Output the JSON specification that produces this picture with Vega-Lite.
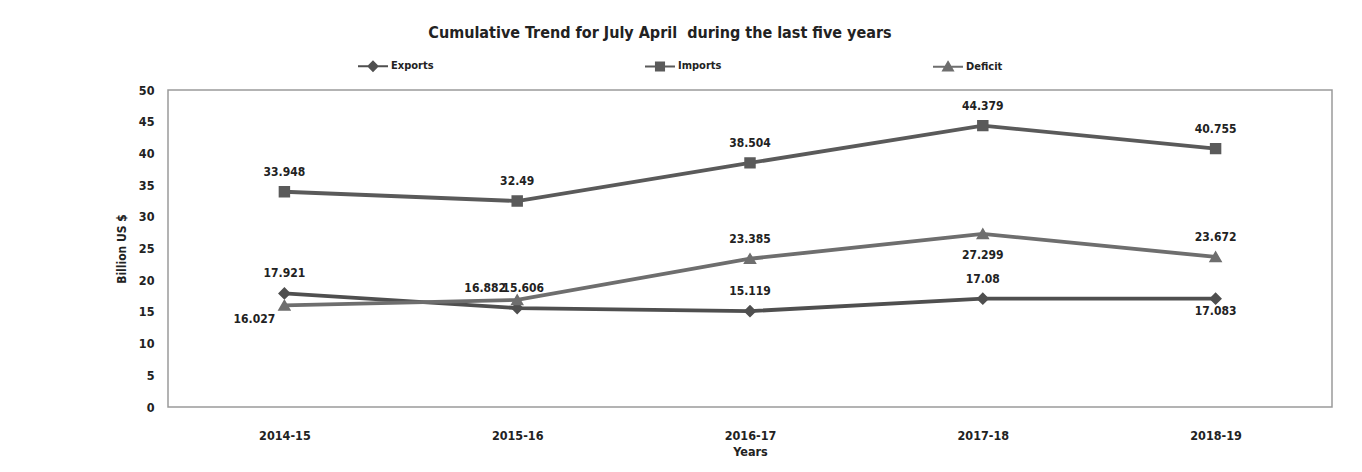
{
  "$schema": "https://vega.github.io/schema/vega-lite/v6.json",
  "width": 1164,
  "height": 317,
  "autosize": {"type": "none"},
  "padding": {"left": 168, "top": 90, "right": 30, "bottom": 65},
  "background": "white",
  "config": {
    "font": "DejaVu Sans Condensed",
    "view": {"stroke": "#9a9a9a", "strokeWidth": 1.5}
  },
  "title": {
    "text": "Cumulative Trend for July April\u00a0 during the last five years",
    "fontSize": 16,
    "fontWeight": "bold",
    "color": "#222",
    "anchor": "middle",
    "dx": -90,
    "offset": 9
  },
  "data": {
    "values": [
      {"year": "2014-15", "series": "Exports", "value": 17.921},
      {"year": "2015-16", "series": "Exports", "value": 15.606},
      {"year": "2016-17", "series": "Exports", "value": 15.119},
      {"year": "2017-18", "series": "Exports", "value": 17.08},
      {"year": "2018-19", "series": "Exports", "value": 17.083},
      {"year": "2014-15", "series": "Imports", "value": 33.948},
      {"year": "2015-16", "series": "Imports", "value": 32.49},
      {"year": "2016-17", "series": "Imports", "value": 38.504},
      {"year": "2017-18", "series": "Imports", "value": 44.379},
      {"year": "2018-19", "series": "Imports", "value": 40.755},
      {"year": "2014-15", "series": "Deficit", "value": 16.027},
      {"year": "2015-16", "series": "Deficit", "value": 16.882},
      {"year": "2016-17", "series": "Deficit", "value": 23.385},
      {"year": "2017-18", "series": "Deficit", "value": 27.299},
      {"year": "2018-19", "series": "Deficit", "value": 23.672}
    ]
  },
  "encoding": {
    "x": {
      "field": "year",
      "type": "ordinal",
      "scale": {"type": "point", "padding": 0.5},
      "axis": {
        "title": "Years",
        "labelAngle": 0,
        "domain": false,
        "ticks": false,
        "labelPadding": 22,
        "labelFontSize": 12.5,
        "labelFontWeight": "bold",
        "labelColor": "#222",
        "titleFontSize": 12.5,
        "titleFontWeight": "bold",
        "titleColor": "#222",
        "titlePadding": 4
      }
    },
    "y": {
      "field": "value",
      "type": "quantitative",
      "scale": {"domain": [0, 50]},
      "axis": {
        "title": "Billion US $",
        "values": [0, 5, 10, 15, 20, 25, 30, 35, 40, 45, 50],
        "grid": false,
        "domain": false,
        "ticks": false,
        "labelPadding": 14,
        "labelFontSize": 12.5,
        "labelFontWeight": "bold",
        "labelColor": "#222",
        "titleFontSize": 12,
        "titleFontWeight": "bold",
        "titleColor": "#222",
        "titlePadding": 10
      }
    }
  },
  "layer": [
    {
      "mark": {"type": "line", "strokeWidth": 3.8},
      "encoding": {
        "color": {
          "field": "series",
          "type": "nominal",
          "scale": {"domain": ["Exports", "Imports", "Deficit"], "range": ["#4f4f4f", "#5a5a5a", "#6e6e6e"]},
          "legend": {
            "title": null,
            "orient": "none",
            "legendX": 189,
            "legendY": -40,
            "direction": "horizontal",
            "columns": 3,
            "columnPadding": 207,
            "symbolSize": 900,
            "symbolStrokeWidth": 2,
            "symbolStrokeColor": "#4f4f4f",
            "labelFontSize": 11,
            "labelFontWeight": "bold",
            "labelColor": "#222",
            "labelOffset": 2
          }
        }
      }
    },
    {
      "mark": {"type": "point", "filled": true, "opacity": 1, "size": 1800, "strokeWidth": 0},
      "encoding": {
        "color": {"field": "series", "type": "nominal", "legend": null},
        "shape": {
          "field": "series",
          "type": "nominal",
          "scale": {"domain": ["Exports", "Imports", "Deficit"], "range": ["M-1,0H1M0,-0.3L0.3,0L0,0.3L-0.3,0Z", "M-1,0H1M-0.27,-0.27H0.27V0.27H-0.27Z", "M-1,0H1M0,-0.3L0.32,0.25H-0.32Z"]},
          "legend": null
        }
      }
    },
    {
      "transform": [{"filter": "datum.series == 'Imports' || (datum.series == 'Exports' && datum.year != '2018-19' && datum.year != '2015-16') || (datum.series == 'Deficit' && (datum.year == '2016-17' || datum.year == '2018-19'))"}],
      "mark": {"type": "text", "dy": -20, "fontSize": 12, "fontWeight": "bold", "color": "#222"},
      "encoding": {"text": {"field": "value", "type": "quantitative", "format": ".5~r"}}
    },
    {
      "transform": [{"filter": "datum.series == 'Exports' && datum.year == '2015-16'"}],
      "mark": {"type": "text", "dy": -20, "dx": 6, "fontSize": 12, "fontWeight": "bold", "color": "#222"},
      "encoding": {"text": {"field": "value", "type": "quantitative", "format": ".5~r"}}
    },
    {
      "transform": [{"filter": "datum.series == 'Deficit' && datum.year == '2015-16'"}],
      "mark": {"type": "text", "dy": -12, "dx": -32, "fontSize": 12, "fontWeight": "bold", "color": "#222"},
      "encoding": {"text": {"field": "value", "type": "quantitative", "format": ".5~r"}}
    },
    {
      "transform": [{"filter": "datum.series == 'Deficit' && datum.year == '2014-15'"}],
      "mark": {"type": "text", "dy": 14, "dx": -30, "fontSize": 12, "fontWeight": "bold", "color": "#222"},
      "encoding": {"text": {"field": "value", "type": "quantitative", "format": ".5~r"}}
    },
    {
      "transform": [{"filter": "datum.series == 'Deficit' && datum.year == '2017-18'"}],
      "mark": {"type": "text", "dy": 21, "fontSize": 12, "fontWeight": "bold", "color": "#222"},
      "encoding": {"text": {"field": "value", "type": "quantitative", "format": ".5~r"}}
    },
    {
      "transform": [{"filter": "datum.series == 'Exports' && datum.year == '2018-19'"}],
      "mark": {"type": "text", "dy": 12, "fontSize": 12, "fontWeight": "bold", "color": "#222"},
      "encoding": {"text": {"field": "value", "type": "quantitative", "format": ".5~r"}}
    }
  ]
}
